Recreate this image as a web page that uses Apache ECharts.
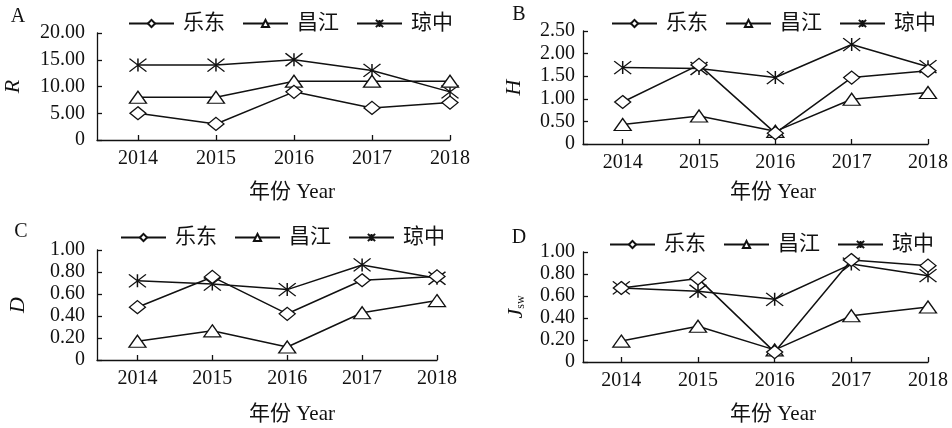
<!DOCTYPE html>
<html>
<head>
<meta charset="utf-8">
<script src="https://cdn.jsdelivr.net/npm/echarts@6/dist/echarts.min.js"></script>
<style>
  html, body { margin: 0; padding: 0; background: #fff; }
  #chart { width: 952px; height: 428px; }
</style>
</head>
<body>
<div id="chart"></div>
<script>
// Survey years and sites
const years = [2014, 2015, 2016, 2017, 2018];
const sites = ['乐东', '昌江', '琼中'];

// A: richness R
const rLedong      = [5, 3, 9, 6, 7];
const rChangjiang  = [8, 8, 11, 11, 11];
const rQiongzhong  = [14, 14, 15, 13, 9];
const rTicks       = [0, 5, 10, 15, 20];

// B: Shannon-Wiener H
const hLedong      = [0.93, 1.75, 0.24, 1.47, 1.62];
const hChangjiang  = [0.43, 0.62, 0.28, 0.99, 1.14];
const hQiongzhong  = [1.69, 1.67, 1.47, 2.20, 1.71];
const hTicks       = [0, 0.5, 1.0, 1.5, 2.0, 2.5];

// C: Simpson D
const dLedong      = [0.48, 0.755, 0.42, 0.725, 0.76];
const dChangjiang  = [0.17, 0.265, 0.118, 0.43, 0.54];
const dQiongzhong  = [0.72, 0.69, 0.64, 0.864, 0.743];
const dTicks       = [0, 0.2, 0.4, 0.6, 0.8, 1.0];

// D: evenness Jsw
const jLedong      = [0.673, 0.76, 0.09, 0.927, 0.876];
const jChangjiang  = [0.19, 0.325, 0.11, 0.42, 0.50];
const jQiongzhong  = [0.673, 0.643, 0.57, 0.89, 0.785];
const jTicks       = [0, 0.2, 0.4, 0.6, 0.8, 1.0];

const INK = '#111';
const SERIF = '"Liberation Serif", "Times New Roman", "Noto Sans CJK SC", serif';
const MIXED = '"Liberation Serif", "Noto Sans CJK SC", serif';
const STAR = 'path://M0,0L14,12M14,0L0,12M7,0L7,12';

const markers = {
  '乐东': { symbol: 'diamond', size: [16, 13] },
  '昌江': { symbol: 'triangle', size: [17, 12] },
  '琼中': { symbol: STAR, size: [17, 13] }
};

const panels = [
  { grid: { left: 97, top: 33, width: 353, height: 107 }, xMin: 2013.475, ticks: rTicks,
    data: [rLedong, rChangjiang, rQiongzhong], name: 'R', nameGap: 73, labelMargin: 12,
    legend: { left: 128, top: 13 } },
  { grid: { left: 583, top: 31, width: 345, height: 113 }, xMin: 2013.48, ticks: hTicks,
    data: [hLedong, hChangjiang, hQiongzhong], name: 'H', nameGap: 58, labelMargin: 8,
    legend: { left: 611, top: 13 } },
  { grid: { left: 97, top: 250, width: 340, height: 110 }, xMin: 2013.46, ticks: dTicks,
    data: [dLedong, dChangjiang, dQiongzhong], name: 'D', nameGap: 68, labelMargin: 12,
    legend: { left: 120, top: 227 } },
  { grid: { left: 583, top: 252, width: 345, height: 110 }, xMin: 2013.5, ticks: jTicks,
    data: [jLedong, jChangjiang, jQiongzhong], name: '{i|J}{s|sw}', nameGap: 56, labelMargin: 8,
    legend: { left: 609, top: 234 } }
];

const tickFmt = v => (v === 0 ? '0' : v.toFixed(2));

const option = {
  animation: false,
  backgroundColor: '#fff',
  grid: panels.map(p => Object.assign({ containLabel: false }, p.grid)),
  legend: panels.map(p => ({
    left: p.legend.left,
    top: p.legend.top,
    padding: 0,
    orient: 'horizontal',
    itemWidth: 45,
    itemHeight: 9,
    itemGap: 17,
    selectedMode: false,
    data: sites,
    textStyle: { fontFamily: MIXED, fontSize: 21, color: INK, padding: [0, 0, 0, 4] }
  })),
  xAxis: panels.map((p, i) => ({
    type: 'value',
    gridIndex: i,
    min: p.xMin,
    max: 2018,
    splitLine: { show: false },
    axisLine: { show: true, lineStyle: { color: INK, width: 1.3 } },
    axisTick: { show: true, inside: true, length: 5, customValues: years, lineStyle: { color: INK, width: 1.3 } },
    axisLabel: { customValues: years, margin: 9, fontFamily: SERIF, fontSize: 20, color: INK, formatter: v => String(v) }
  })),
  yAxis: panels.map((p, i) => ({
    type: 'value',
    gridIndex: i,
    min: 0,
    max: p.ticks[p.ticks.length - 1],
    splitLine: { show: false },
    axisLine: { show: true, lineStyle: { color: INK, width: 1.3 } },
    axisTick: { show: true, inside: true, length: 5, customValues: p.ticks, lineStyle: { color: INK, width: 1.3 } },
    axisLabel: { customValues: p.ticks, margin: p.labelMargin, fontFamily: SERIF, fontSize: 20, color: INK, formatter: tickFmt },
    name: p.name,
    nameLocation: 'middle',
    nameGap: p.nameGap,
    nameRotate: 90,
    nameTextStyle: {
      fontFamily: SERIF, fontSize: 22, fontStyle: 'italic', color: INK,
      rich: {
        i: { fontFamily: SERIF, fontSize: 22, fontStyle: 'italic', color: INK },
        s: { fontFamily: SERIF, fontSize: 12, fontStyle: 'normal', color: INK, verticalAlign: 'bottom', padding: [10, 0, 0, 0] }
      }
    }
  })),
  series: [],
  graphic: []
};

panels.forEach((p, i) => {
  sites.forEach((site, k) => {
    option.series.push({
      type: 'line',
      name: site,
      xAxisIndex: i,
      yAxisIndex: i,
      data: years.map((y, j) => [y, p.data[k][j]]),
      symbol: markers[site].symbol,
      symbolSize: markers[site].size,
      showAllSymbol: true,
      lineStyle: { color: INK, width: 1.5 },
      itemStyle: { color: '#fff', borderColor: INK, borderWidth: 1.3 },
      emphasis: { disabled: true },
      z: 3 - k
    });
  });
});

// Panel letters and x-axis titles
const letters = [['A', 18, 17], ['B', 519, 15], ['C', 21, 232], ['D', 519, 238]];
letters.forEach(([t, x, y]) => option.graphic.push({
  type: 'text', x, y,
  style: { text: t, fontFamily: SERIF, fontSize: 20, fill: INK, align: 'center', verticalAlign: 'middle' }
}));
const xTitles = [[292, 192], [773, 192], [292, 414], [773, 414]];
xTitles.forEach(([x, y]) => option.graphic.push({
  type: 'text', x, y,
  style: { text: '年份 Year', fontFamily: MIXED, fontSize: 21, fill: INK, align: 'center', verticalAlign: 'middle' }
}));

const chart = echarts.init(document.getElementById('chart'), null, { renderer: 'canvas' });
chart.setOption(option);
</script>
</body>
</html>
